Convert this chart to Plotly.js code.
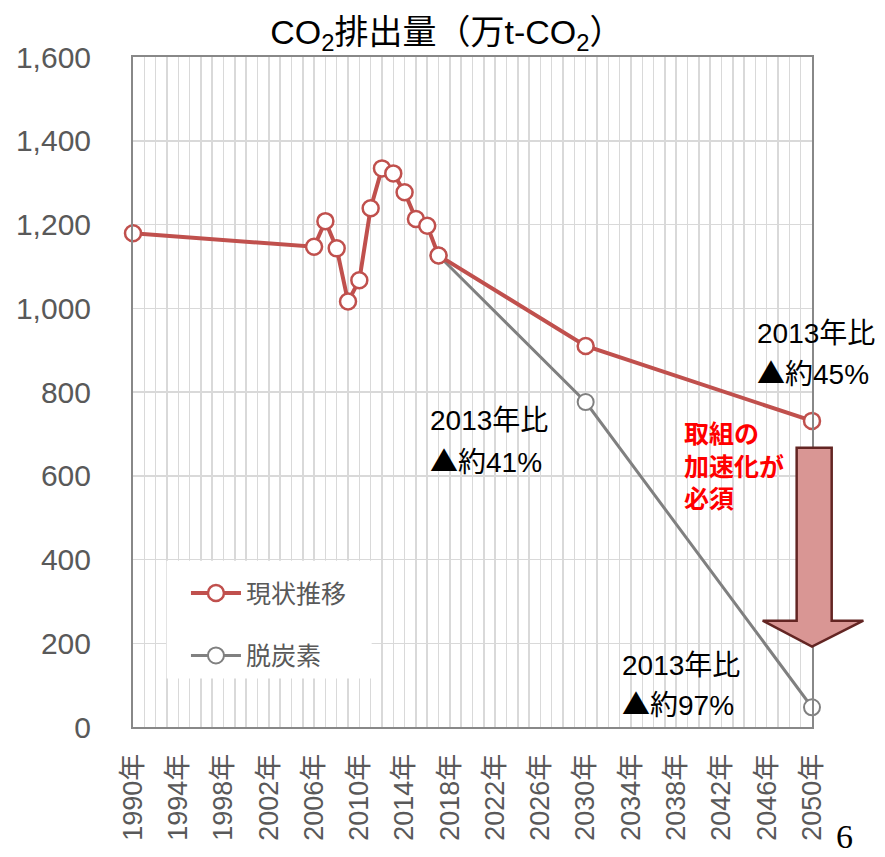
<!DOCTYPE html>
<html>
<head>
<meta charset="utf-8">
<script src="https://cdn.plot.ly/plotly-3.0.1.min.js"></script>
<style>html,body{margin:0;padding:0;background:#fff;}#chart{width:885px;height:857px;}</style>
</head>
<body>
<div id="chart"></div>
<script>
// ---- data ----
const currentYears = [1990, 2006, 2007, 2008, 2009, 2010, 2011, 2012, 2013, 2014, 2015, 2016, 2017, 2030, 2050];
const currentValues = [1179, 1147, 1208, 1143, 1016, 1067, 1239, 1334, 1322, 1277, 1213, 1197, 1126, 910, 731];
const decarbYears = [2017, 2030, 2050];
const decarbValues = [1126, 776, 47];
const tickYears = [1990, 1994, 1998, 2002, 2006, 2010, 2014, 2018, 2022, 2026, 2030, 2034, 2038, 2042, 2046, 2050];
const tickLabels = ['1990年','1994年','1998年','2002年','2006年','2010年','2014年','2018年','2022年','2026年','2030年','2034年','2038年','2042年','2046年','2050年'];
const seriesNames = ['現状推移', '脱炭素'];
const titleText = 'CO<sub>2</sub>排出量（万t-CO<sub>2</sub>）';

const RED = '#c0504d', GREY = '#808080';
const FONT = 'Liberation Sans, Arial, Noto Sans CJK JP, sans-serif';
const CJK = 'Liberation Sans, Noto Sans CJK JP, sans-serif';
const TRI = '<span style="font-family:Noto Sans CJK JP">▲</span>';

const traces = [
  {
    x: decarbYears, y: decarbValues, name: seriesNames[1], type: 'scatter', mode: 'lines+markers',
    line: {color: GREY, width: 3},
    marker: {symbol: 'circle', size: 16, color: '#ffffff', line: {color: GREY, width: 2}},
    cliponaxis: false, legendgroup: 'b', legendrank: 2
  },
  {
    x: currentYears, y: currentValues, name: seriesNames[0], type: 'scatter', mode: 'lines+markers',
    line: {color: RED, width: 4},
    marker: {symbol: 'circle', size: 16, color: '#ffffff', line: {color: RED, width: 2.5}},
    cliponaxis: false, legendgroup: 'a', legendrank: 1
  }
];

function ann(text, x, y, opts) {
  return Object.assign({
    text: text, xref: 'paper', yref: 'paper', x: x, y: y,
    xanchor: 'left', yanchor: 'middle', showarrow: false, align: 'left',
    font: {family: CJK, size: 28, color: '#000000'}
  }, opts || {});
}
const redFont = {family: 'Noto Sans CJK JP, sans-serif', size: 25, color: '#ff0000', weight: 'bold'};

const layout = {
  width: 885, height: 857,
  margin: {l: 133, r: 73, t: 57, b: 130},
  paper_bgcolor: '#ffffff', plot_bgcolor: '#ffffff',
  showlegend: true,
  title: {text: titleText, font: {family: CJK, size: 34, color: '#000000'},
          xref: 'container', x: 0.505, xanchor: 'center', yref: 'container', y: 0.963, yanchor: 'middle'},
  xaxis: {
    type: 'linear', range: [1990, 2050], tickmode: 'array', tickvals: tickYears, ticktext: tickLabels,
    tickangle: -90, tickfont: {family: FONT, size: 27, color: '#595959'},
    showgrid: true, gridcolor: '#d9d9d9', gridwidth: 1.5,
    minor: {dtick: 1, tick0: 1990, showgrid: true, gridcolor: '#d9d9d9', gridwidth: 1.5, ticks: ''},
    showline: true, linecolor: '#888888', linewidth: 2, mirror: true,
    ticks: '', zeroline: false, ticklabelstandoff: 14, fixedrange: true
  },
  yaxis: {
    range: [0, 1600], dtick: 200, tick0: 0, tickformat: ',d',
    tickfont: {family: FONT, size: 30, color: '#595959'},
    showgrid: true, gridcolor: '#d9d9d9', gridwidth: 1.5,
    showline: true, linecolor: '#888888', linewidth: 2, mirror: true,
    ticks: '', zeroline: false, ticklabelstandoff: 34, fixedrange: true
  },
  legend: {
    x: 0.078, y: 0.234, xanchor: 'left', yanchor: 'top',
    bgcolor: 'rgba(0,0,0,0)', borderwidth: 0,
    font: {family: 'Noto Sans CJK JP, sans-serif', size: 25, color: '#595959'},
    traceorder: 'grouped', tracegroupgap: 27, itemwidth: 50
  },
  shapes: [
    {type: 'rect', xref: 'x', yref: 'y', x0: 1992.98, x1: 2011.09, y0: 116, y1: 397,
     fillcolor: '#ffffff', line: {width: 0}, layer: 'between'},
    {type: 'path', xref: 'paper', yref: 'paper', layer: 'above',
     path: 'M0.9774,0.4169 L1.0290,0.4169 L1.0290,0.1587 L1.0756,0.1587 L1.0000,0.1199 L0.9274,0.1587 L0.9774,0.1587 Z',
     fillcolor: '#d99694', line: {color: '#632523', width: 2.5}}
  ],
  annotations: [
    ann('2013年比', 0.916, 0.5866),
    ann(TRI + '約45%', 0.916, 0.530),
    ann('2013年比', 0.4345, 0.458),
    ann(TRI + '約41%', 0.4345, 0.3985),
    ann('2013年比', 0.7172, 0.0925),
    ann(TRI + '約97%', 0.7172, 0.0358),
    ann('取組の<br>加速化が<br>必須', 0.808, 0.3925, {font: redFont}),
    ann('6', 1.0486, -0.194, {xanchor: 'center', yanchor: 'bottom', font: {family: 'Liberation Serif, serif', size: 34, color: '#000000'}})
  ]
};

Plotly.newPlot('chart', traces, layout, {displayModeBar: false, staticPlot: true});
</script>
</body>
</html>
